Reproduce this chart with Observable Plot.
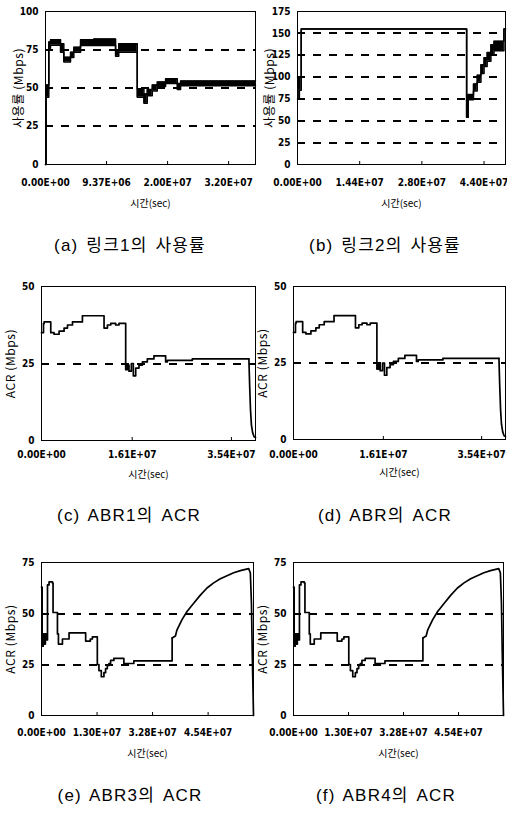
<!DOCTYPE html>
<html><head><meta charset="utf-8">
<script src="https://cdn.jsdelivr.net/npm/d3@7"></script>
<script src="https://cdn.jsdelivr.net/npm/@observablehq/plot@0.6"></script>
<style>
body{margin:0;background:#fff;}
#root{position:relative;width:507px;height:814px;background:#fff;overflow:hidden;}
.panel{position:absolute;}
.cap{position:absolute;transform:translate(-50%,-50%);font-family:"Liberation Sans","Noto Sans CJK KR",sans-serif;font-size:17px;letter-spacing:1.2px;word-spacing:2px;white-space:nowrap;color:#000;}
g[aria-label="y-axis label"] text{font-family:"Noto Sans CJK KR","Liberation Sans",sans-serif;font-size:12px;letter-spacing:0.6px;}
g[aria-label="x-axis label"] text{font-family:"Noto Sans CJK KR","Liberation Sans",sans-serif;font-size:10px;}
g[aria-label="x-axis tick label"] text, g[aria-label="y-axis tick label"] text{font-weight:bold;}
</style></head><body><div id="root"></div>
<script>
const xTitle = "시간(sec)";
const utilTitle = "사용률 (Mbps)";
const acrTitle = "ACR (Mbps)";

// (a) link 1 utilisation — x in tick-interval units
const aTickPos = [0, 1, 2, 3];
const aTickLabels = ["0.00E+00", "9.37E+06", "2.00E+07", "3.20E+07"];
const aYTicks = [0, 25, 50, 75, 100];
const aGrid = [25, 50, 75];
const aTime = [0, 0.01, 0.054, 0.082, 0.246, 0.3, 0.41, 0.464, 0.574, 0.792, 1.148, 1.2, 1.503, 1.612, 1.667, 1.749, 1.831, 1.967, 2.159, 2.213, 3.44];
const aLow  = [0, 44, 76, 78, 73.4, 67, 70, 73.4, 77.8, 77.8, 70.7, 73.4, 44, 40, 45, 48, 51, 53, 49, 51.5, 51.5];
const aHigh = [0, 52, 80, 81.5, 78.9, 70.1, 73.4, 76.7, 81.5, 82.1, 75, 78.9, 49.5, 46, 49, 52, 54, 56, 53, 54.5, 54.5];

// (b) link 2 utilisation
const bTickPos = [0, 1, 2, 3];
const bTickLabels = ["0.00E+00", "1.44E+07", "2.80E+07", "4.40E+07"];
const bYTicks = [0, 25, 50, 75, 100, 125, 150, 175];
const bGrid = [25, 50, 75, 100, 125, 150];
const bTime = [0, 0.03, 0.06, 2.72, 2.745, 2.83, 2.89, 2.95, 3.0, 3.05, 3.11, 3.16, 3.32, 3.345];
const bLow  = [75, 85, 155, 54, 74, 84, 94, 104, 112, 118, 125, 130, 155, 155];
const bHigh = [100, 100, 155, 54, 80, 92, 102, 114, 122, 128, 137, 141, 155, 155];

// (c)/(d) ABR1 ACR
const cTickPos = [0, 0.96, 2.01];
const cTickLabels = ["0.00E+00", "1.61E+07", "3.54E+07"];
const cYTicks = [0, 25, 50];
const cGrid = [25];
const cTime = [0, 0.021, 0.028, 0.098, 0.133, 0.186, 0.239, 0.275, 0.328, 0.433, 0.662, 0.698, 0.733, 0.785, 0.82, 0.891, 0.909, 0.926, 0.951, 0.972, 0.997, 1.032, 1.068, 1.12, 1.19, 1.314, 1.332, 1.596, 2.195];
const cAcr  = [35, 38, 38.5, 35, 34.5, 35.5, 36.5, 37.5, 38.5, 40.5, 36.5, 37.5, 38, 37.5, 38, 23, 24.5, 22.5, 25, 21, 23.5, 24.5, 25.5, 26.5, 27.5, 25.5, 26, 26.5, 26.5];
const cTailTime = [2.195, 2.203, 2.212, 2.222, 2.235, 2.25, 2.265];
const cTailAcr  = [26.5, 18, 10, 5, 2.5, 1.2, 1];

// (e)/(f) ABR3/ABR4 ACR
const eTickPos = [0, 1, 2, 3];
const eTickLabels = ["0.00E+00", "1.30E+07", "3.28E+07", "4.54E+07"];
const eYTicks = [0, 25, 50, 75];
const eGrid = [25, 50];
const eTime = [0, 0.012, 0.03, 0.05, 0.07, 0.09, 0.108, 0.136, 0.197, 0.208, 0.287, 0.305, 0.377, 0.496, 0.795, 0.88, 0.916, 1.005, 1.034, 1.077, 1.124, 1.154, 1.185, 1.214, 1.244, 1.303, 1.483, 1.662, 2.352];
const eAcr  = [63, 34, 40, 35, 40, 37, 64, 65.5, 65, 50.5, 40, 35, 37.5, 40.5, 36.5, 37.5, 38.5, 25, 22, 19, 21, 23, 24.5, 25.5, 27, 28, 25.5, 26.8, 38];
const eRiseTime = [2.352, 2.411, 2.44, 2.53, 2.62, 2.74, 2.86, 2.98, 3.10, 3.22, 3.34, 3.46, 3.58, 3.73, 3.76, 3.78, 3.795, 3.81, 3.817];
const eRiseAcr  = [38, 39, 42, 47, 51, 55, 59, 62.5, 65, 67, 68.5, 70, 71, 72, 70, 55, 30, 10, 0];

const bandRows = (t, lo, hi) => t.map((d, i) => ({t: d, lo: lo[i], hi: hi[i]}));
const lineRows = (t, v) => t.map((d, i) => ({t: d, v: v[i]}));

const aData = bandRows(aTime, aLow, aHigh);
const bData = bandRows(bTime, bLow, bHigh);
const cData = lineRows(cTime, cAcr);
const cTail = lineRows(cTailTime, cTailAcr);
const eData = lineRows(eTime, eAcr);
const eRise = lineRows(eRiseTime, eRiseAcr);

const bandMarks = (data) => [
  Plot.areaY(data, {x: "t", y1: "lo", y2: "hi", curve: "step-after", fill: "#000"}),
  Plot.lineY(data, {x: "t", y: "lo", curve: "step-after", stroke: "#000", strokeWidth: 1.5}),
  Plot.lineY(data, {x: "t", y: "hi", curve: "step-after", stroke: "#000", strokeWidth: 1.5})
];
const lineMarks = (steps, smooth) => [
  Plot.lineY(steps, {x: "t", y: "v", curve: "step-after", stroke: "#000", strokeWidth: 1.7}),
  Plot.lineY(smooth, {x: "t", y: "v", curve: "linear", stroke: "#000", strokeWidth: 1.7})
];

const root = document.getElementById("root");

function panel(o) {
  const chart = Plot.plot({
    width: o.width, height: o.height,
    marginLeft: o.mL, marginRight: o.mR, marginTop: o.mT, marginBottom: o.mB,
    style: {fontFamily: "'Liberation Sans Narrow', 'DejaVu Sans Condensed', 'Liberation Sans', sans-serif", fontSize: "10px", color: "#000", background: "transparent", overflow: "visible"},
    x: {domain: o.xDomain, ticks: o.xTicks, tickFormat: d => o.xLabels[o.xTicks.indexOf(d)],
        label: xTitle, labelArrow: false, labelAnchor: "center", labelOffset: o.xLabelOffset, tickSize: -3, tickPadding: o.xTickPad + 3},
    y: {domain: o.yDomain, ticks: o.yTicks, label: o.yLabel, labelArrow: false, labelAnchor: "center", labelOffset: o.yLabelOffset,
        tickSize: 0, tickPadding: 7},
    marks: [
      Plot.ruleY(o.grid, {stroke: "#000", strokeWidth: 2, strokeDasharray: "8,8", shapeRendering: "crispEdges"}),
      ...o.marks,
      Plot.frame({stroke: "#000", strokeWidth: 1, shapeRendering: "crispEdges"})
    ]
  });
  chart.querySelectorAll('g[aria-label$="axis label"] text').forEach(t => {
    t.textContent = t.textContent.replace(/[\u2190-\u2193]\s?|\s?[\u2190-\u2193]/g, "");
  });
  const div = document.createElement("div");
  div.className = "panel";
  div.style.left = o.left + "px";
  div.style.top = o.top + "px";
  div.appendChild(chart);
  root.appendChild(div);
}

function caption(text, x, y) {
  const d = document.createElement("div");
  d.className = "cap";
  d.style.left = x + "px";
  d.style.top = y + "px";
  d.textContent = text;
  root.appendChild(d);
}

panel({left: 0, top: 0, width: 260, height: 210, mL: 45, mR: 5, mT: 11, mB: 46,
  xDomain: [0, 3.44], xTicks: aTickPos, xLabels: aTickLabels, yDomain: [0, 100], yTicks: aYTicks,
  grid: aGrid, yLabel: utilTitle, yLabelOffset: 31, xLabelOffset: 42, xTickPad: 14, marks: bandMarks(aData)});
panel({left: 252, top: 0, width: 255, height: 210, mL: 45, mR: 2, mT: 11, mB: 46,
  xDomain: [0, 3.345], xTicks: bTickPos, xLabels: bTickLabels, yDomain: [0, 175], yTicks: bYTicks,
  grid: bGrid, yLabel: utilTitle, yLabelOffset: 32, xLabelOffset: 42, xTickPad: 14, marks: bandMarks(bData)});
panel({left: 0, top: 270, width: 260, height: 210, mL: 41, mR: 5, mT: 16, mB: 40,
  xDomain: [0, 2.265], xTicks: cTickPos, xLabels: cTickLabels, yDomain: [0, 50], yTicks: cYTicks,
  grid: cGrid, yLabel: acrTitle, yLabelOffset: 35, xLabelOffset: 37, xTickPad: 10, marks: lineMarks(cData, cTail)});
panel({left: 252, top: 270, width: 255, height: 210, mL: 41, mR: 2, mT: 16, mB: 41,
  xDomain: [0, 2.265], xTicks: cTickPos, xLabels: cTickLabels, yDomain: [0, 50], yTicks: cYTicks,
  grid: cGrid, yLabel: acrTitle, yLabelOffset: 35, xLabelOffset: 36, xTickPad: 11, marks: lineMarks(cData, cTail)});
panel({left: 0, top: 545, width: 260, height: 215, mL: 41, mR: 7, mT: 17, mB: 45,
  xDomain: [0, 3.817], xTicks: eTickPos, xLabels: eTickLabels, yDomain: [0, 75], yTicks: eYTicks,
  grid: eGrid, yLabel: acrTitle, yLabelOffset: 35, xLabelOffset: 41, xTickPad: 13, marks: lineMarks(eData, eRise)});
panel({left: 252, top: 545, width: 255, height: 215, mL: 41, mR: 4, mT: 17, mB: 45,
  xDomain: [0, 3.817], xTicks: eTickPos, xLabels: eTickLabels, yDomain: [0, 75], yTicks: eYTicks,
  grid: eGrid, yLabel: acrTitle, yLabelOffset: 35, xLabelOffset: 41, xTickPad: 13, marks: lineMarks(eData, eRise)});

caption("(a) 링크1의 사용률", 130, 243);
caption("(b) 링크2의 사용률", 385, 243);
caption("(c) ABR1의 ACR", 129, 513);
caption("(d) ABR의 ACR", 385, 513);
caption("(e) ABR3의 ACR", 130, 793);
caption("(f) ABR4의 ACR", 386, 793);
</script>
</body></html>
